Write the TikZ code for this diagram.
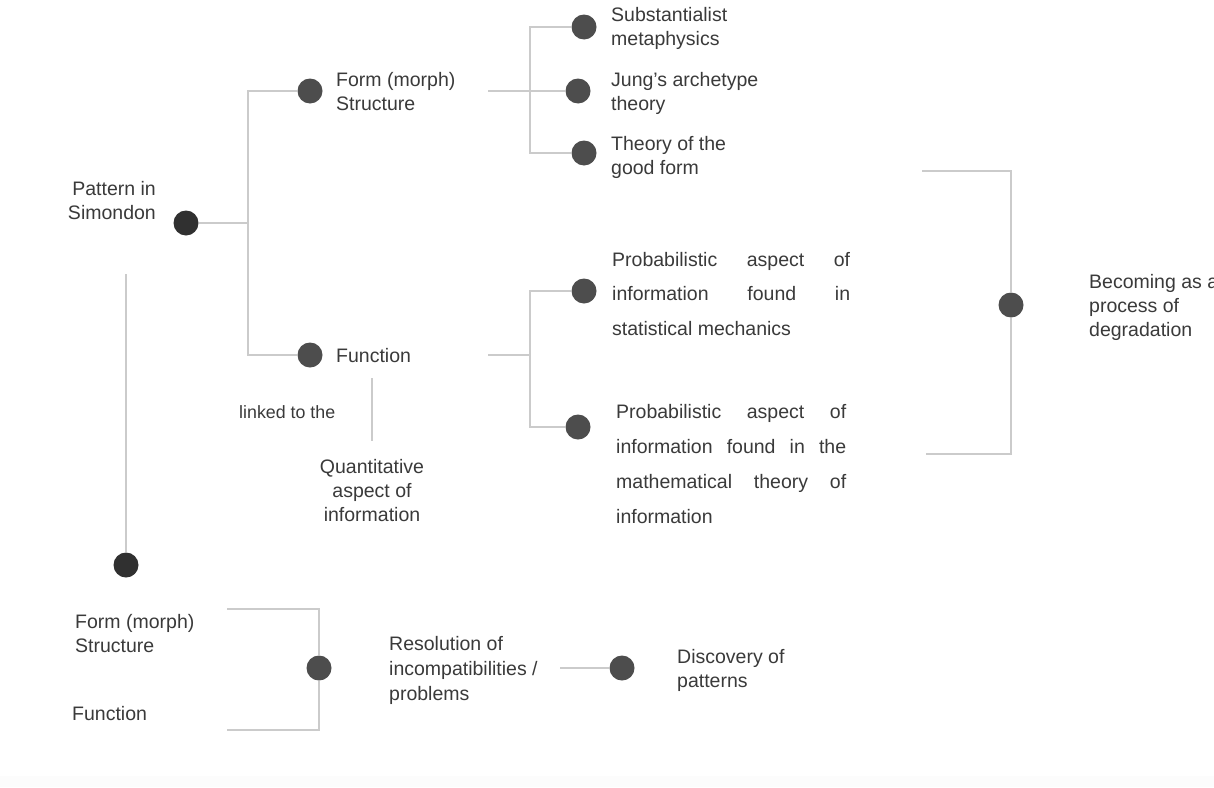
\documentclass[tikz,border=0pt]{standalone}
\usepackage{fontspec}
\setmainfont{Liberation Sans}
\begin{document}
\begin{tikzpicture}[x=1pt,y=-1pt,
  txt/.style={anchor=base west,inner sep=0pt,text=inkgray,font=\fontsize{19.5}{24}\selectfont},
  dot/.style={circle,fill=dotgray,draw=none,minimum size=25pt,inner sep=0pt},
  darkdot/.style={dot,fill=dotdark},
  link/.style={draw=linegray,line width=1.2pt}]
\definecolor{inkgray}{HTML}{3A3A3A}
\definecolor{dotgray}{HTML}{4D4D4D}
\definecolor{dotdark}{HTML}{303030}
\definecolor{linegray}{HTML}{CBCBCB}
\definecolor{stripgray}{HTML}{FCFCFC}
% page and faint bottom strip
\useasboundingbox (0,0) rectangle (1214,787);
\fill[white] (0,0) rectangle (1214,787);
\fill[stripgray] (0,776) rectangle (1214,787);

% ---- dots ----
\node[darkdot] (pat) at (186,223) {};
\node[dot] (form) at (310,91) {};
\node[dot] (func) at (310,355) {};
\node[dot] (subst) at (584,27) {};
\node[dot] (jung) at (578,91) {};
\node[dot] (good) at (584,153) {};
\node[dot] (prob1) at (584,291) {};
\node[dot] (prob2) at (578,427) {};
\node[dot] (becom) at (1011,305) {};
\node[darkdot] (low) at (126,565) {};
\node[dot] (res) at (319,668) {};
\node[dot] (disc) at (622,668) {};

% ---- junctions and free ends ----
\coordinate (jA) at (248,223);
\coordinate (fsEnd) at (488,91);
\coordinate (jB) at (530,91);
\coordinate (fnEnd) at (488,355);
\coordinate (jC) at (530,355);
\coordinate (lkTop) at (372,378);
\coordinate (lkBot) at (372,441);
\coordinate (bTop) at (922,171);
\coordinate (bBot) at (926,454);
\coordinate (vTop) at (126,274);
\coordinate (rTop) at (227,609);
\coordinate (rBot) at (227,730);
\coordinate (rsEnd) at (560,668);

% ---- connectors ----
\draw[link] (pat) -- (jA);
\draw[link] (jA) |- (form);
\draw[link] (jA) |- (func);
\draw[link] (fsEnd) -- (jB);
\draw[link] (jB) |- (subst);
\draw[link] (jB) -- (jung);
\draw[link] (jB) |- (good);
\draw[link] (fnEnd) -- (jC);
\draw[link] (jC) |- (prob1);
\draw[link] (jC) |- (prob2);
\draw[link] (lkTop) -- (lkBot);
\draw[link] (bTop) -| (becom);
\draw[link] (bBot) -| (becom);
\draw[link] (vTop) -- (low);
\draw[link] (rTop) -| (res);
\draw[link] (rBot) -| (res);
\draw[link] (rsEnd) -- (disc);

% ---- labels ----
\node[txt,anchor=base east] (t1a) at (156,195) {Pattern in};
\node[txt,anchor=base east] (t1b) at (156,219) {Simondon};

\node[txt] (t2a) at (336,86) {Form (morph)};
\node[txt] (t2b) at (336,110) {Structure};
\node[txt] (t3) at (336,362) {Function};

\node[txt] (t4a) at (611,21) {Substantialist};
\node[txt] (t4b) at (611,45) {metaphysics};
\node[txt] (t5a) at (611,86) {Jung’s archetype};
\node[txt] (t5b) at (611,110) {theory};
\node[txt] (t6a) at (611,150) {Theory of the};
\node[txt] (t6b) at (611,174) {good form};

\node[txt,font=\fontsize{17.8}{22}\selectfont] (t7) at (239,418) {linked to the};
\node[txt,anchor=base] (t8a) at (372,473) {Quantitative};
\node[txt,anchor=base] (t8b) at (372,497) {aspect of};
\node[txt,anchor=base] (t8c) at (372,521) {information};

\node[txt] (t9a) at (612,266) {\makebox[238pt][s]{Probabilistic\hfill aspect\hfill of}};
\node[txt] (t9b) at (612,300) {\makebox[238pt][s]{information\hfill found\hfill in}};
\node[txt] (t9c) at (612,335) {statistical mechanics};

\node[txt] (t10a) at (616,418) {\makebox[230pt][s]{Probabilistic\hfill aspect\hfill of}};
\node[txt] (t10b) at (616,453) {\makebox[230pt][s]{information\hfill found\hfill in\hfill the}};
\node[txt] (t10c) at (616,488) {\makebox[230pt][s]{mathematical\hfill theory\hfill of}};
\node[txt] (t10d) at (616,523) {information};

\node[txt] (t11a) at (1089,288) {Becoming as a};
\node[txt] (t11b) at (1089,312) {process of};
\node[txt] (t11c) at (1089,336) {degradation};

\node[txt] (t12a) at (75,628) {Form (morph)};
\node[txt] (t12b) at (75,652) {Structure};
\node[txt] (t13) at (72,720) {Function};

\node[txt] (t14a) at (389,650) {Resolution of};
\node[txt] (t14b) at (389,675) {incompatibilities /};
\node[txt] (t14c) at (389,700) {problems};

\node[txt] (t15a) at (677,663) {Discovery of};
\node[txt] (t15b) at (677,687) {patterns};
\end{tikzpicture}
\end{document}
